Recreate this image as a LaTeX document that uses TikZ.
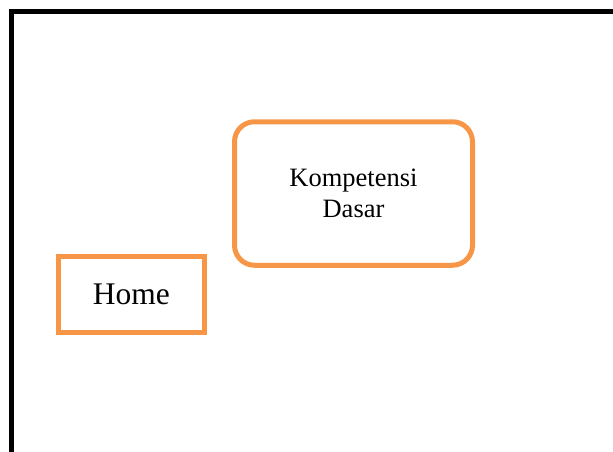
\documentclass[tikz,border=0pt]{standalone}
\usepackage{fontspec}
\setmainfont{Liberation Serif}
\definecolor{boxorange}{HTML}{F79646}
\begin{document}
\begin{tikzpicture}[x=1pt,y=-1pt,
  menubox/.style={draw=boxorange,line width=5pt,inner sep=0pt,align=center},
  framestroke/.style={draw=black,line width=5pt}]
\clip (0,0) rectangle (613,451);
\useasboundingbox (0,0) rectangle (613,451);
% outer page frame (only left and top edges are visible)
\coordinate (fbl) at (11.5,470);
\coordinate (ftl) at (11.5,11.5);
\coordinate (ftr) at (640,11.5);
\draw[framestroke] (fbl) -- (ftl) -- (ftr);
% menu boxes
\node[menubox,rounded corners=20pt,minimum width=238pt,minimum height=143.5pt,
  font=\fontsize{26.5}{31}\selectfont] (kd) at (353.5,193.5) {Kompetensi\\Dasar};
\node[menubox,minimum width=146.5pt,minimum height=76pt,
  font=\fontsize{31.5}{37}\selectfont] (home) at (131.25,294.5) {Home};
\end{tikzpicture}
\end{document}
